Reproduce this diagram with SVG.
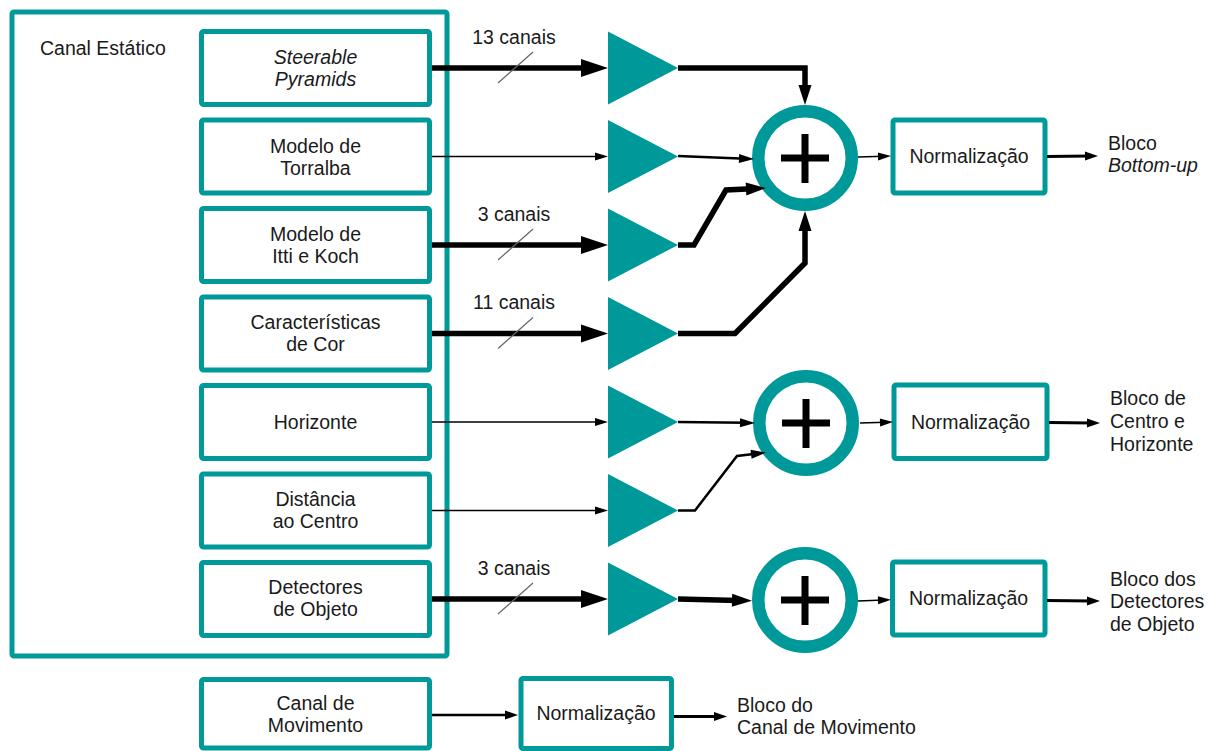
<svg xmlns="http://www.w3.org/2000/svg" width="1208" height="751" viewBox="0 0 1208 751">
<defs>
<style>
.box{fill:#fff;stroke:#009999;stroke-width:5}
.frame{fill:none;stroke:#009999;stroke-width:5}
.tri{fill:#009999}
.ring{fill:#fff;stroke:#009999;stroke-width:12.5}
.plus{stroke:#000;stroke-width:7;fill:none}
text{font-family:"Liberation Sans",Arial,sans-serif;font-size:19.5px;fill:#1a1a1a}
.c{text-anchor:middle}
.it{font-style:italic}
.thick{stroke:#000;stroke-width:5.5;fill:none}
.mid{stroke:#000;stroke-width:2.5;fill:none}
.thin{stroke:#000;stroke-width:1.4;fill:none}
.out{stroke:#000;stroke-width:3;fill:none}
.slash{stroke:#666;stroke-width:1.2}
</style>
<marker id="ahThick" markerUnits="userSpaceOnUse" markerWidth="28" markerHeight="20" refX="12" refY="9" orient="auto" overflow="visible"><path d="M0,0 L27,9 L0,18 z" fill="#000"/></marker>
<marker id="ahSum" markerUnits="userSpaceOnUse" markerWidth="21" markerHeight="14" refX="6" refY="6.5" orient="auto" overflow="visible"><path d="M0,0 L20,6.5 L0,13 z" fill="#000"/></marker>
<marker id="ahMed" markerUnits="userSpaceOnUse" markerWidth="16" markerHeight="10" refX="7" refY="4.5" orient="auto" overflow="visible"><path d="M0,0 L15,4.5 L0,9 z" fill="#000"/></marker>
<marker id="ahThin" markerUnits="userSpaceOnUse" markerWidth="14" markerHeight="8" refX="6" refY="4" orient="auto" overflow="visible"><path d="M0,0 L13,4 L0,8 z" fill="#000"/></marker>
<marker id="ahOut" markerUnits="userSpaceOnUse" markerWidth="14" markerHeight="10" refX="5" refY="4.5" orient="auto" overflow="visible"><path d="M0,0 L13,4.5 L0,9 z" fill="#000"/></marker>
</defs>
<rect width="1208" height="751" fill="#fff"/>

<g id="canal-estatico">
<rect class="frame" x="12" y="12" width="435" height="644" rx="2"/>
<text x="40" y="55">Canal Estático</text>
</g>

<g id="steerable">
<rect class="box" x="201.5" y="31.5" width="228" height="73" rx="2"/>
<text class="c it" x="315.5" y="64">Steerable</text>
<text class="c it" x="315.5" y="86">Pyramids</text>
</g>
<g id="torralba">
<rect class="box" x="201.5" y="120" width="228" height="73" rx="2"/>
<text class="c" x="315.5" y="152.5">Modelo de</text>
<text class="c" x="315.5" y="174.5">Torralba</text>
</g>
<g id="itti-koch">
<rect class="box" x="201.5" y="208.5" width="228" height="73" rx="2"/>
<text class="c" x="315.5" y="241">Modelo de</text>
<text class="c" x="315.5" y="263">Itti e Koch</text>
</g>
<g id="cor">
<rect class="box" x="201.5" y="297" width="228" height="73" rx="2"/>
<text class="c" x="315.5" y="329">Características</text>
<text class="c" x="315.5" y="351">de Cor</text>
</g>
<g id="horizonte">
<rect class="box" x="201.5" y="385.5" width="228" height="73" rx="2"/>
<text class="c" x="315.5" y="428.5">Horizonte</text>
</g>
<g id="distancia">
<rect class="box" x="201.5" y="474" width="228" height="73" rx="2"/>
<text class="c" x="315.5" y="506">Distância</text>
<text class="c" x="315.5" y="528">ao Centro</text>
</g>
<g id="detectores">
<rect class="box" x="201.5" y="562.5" width="228" height="73" rx="2"/>
<text class="c" x="315.5" y="594">Detectores</text>
<text class="c" x="315.5" y="616">de Objeto</text>
</g>
<g id="movimento">
<rect class="box" x="201.5" y="679.5" width="228" height="68.5" rx="2"/>
<text class="c" x="315.5" y="710">Canal de</text>
<text class="c" x="315.5" y="732">Movimento</text>
</g>

<g id="gains">
<polygon class="tri" points="608,31.5 678,68 608,104.5"/>
<polygon class="tri" points="608,120 678,156.5 608,193"/>
<polygon class="tri" points="608,208.5 678,245 608,281.5"/>
<polygon class="tri" points="608,297 678,333.5 608,370"/>
<polygon class="tri" points="608,385.5 678,422 608,458.5"/>
<polygon class="tri" points="608,474 678,510.5 608,547"/>
<polygon class="tri" points="608,562.5 678,599 608,635.5"/>
</g>

<g id="sum1">
<circle class="ring" cx="805" cy="158" r="46.75"/>
<path class="plus" d="M781,158 H829 M805,134 V183"/>
</g>
<g id="sum2">
<circle class="ring" cx="806" cy="423" r="46.75"/>
<path class="plus" d="M782,423 H830 M806,399 V448"/>
</g>
<g id="sum3">
<circle class="ring" cx="805" cy="600" r="46.75"/>
<path class="plus" d="M781,600 H829 M805,576 V625"/>
</g>

<g id="norm1">
<rect class="box" x="893" y="120" width="152" height="73" rx="2"/>
<text class="c" x="969" y="163">Normalização</text>
</g>
<g id="norm2">
<rect class="box" x="894" y="385" width="153" height="73.5" rx="2"/>
<text class="c" x="970.5" y="429">Normalização</text>
</g>
<g id="norm3">
<rect class="box" x="892.5" y="562" width="152.5" height="73" rx="2"/>
<text class="c" x="968.5" y="605">Normalização</text>
</g>
<g id="norm4">
<rect class="box" x="521" y="678.5" width="150.5" height="70" rx="2"/>
<text class="c" x="596" y="720">Normalização</text>
</g>

<g id="outputs">
<text x="1108" y="150">Bloco</text>
<text class="it" x="1108" y="172">Bottom-up</text>
<text x="1110" y="405">Bloco de</text>
<text x="1110" y="428">Centro e</text>
<text x="1110" y="451">Horizonte</text>
<text x="1110" y="586">Bloco dos</text>
<text x="1110" y="608">Detectores</text>
<text x="1110" y="631">de Objeto</text>
<text x="737" y="712">Bloco do</text>
<text x="737" y="734">Canal de Movimento</text>
</g>

<g id="connectors">
<path class="thick" d="M432,68 H593" marker-end="url(#ahThick)"/>
<path class="thin" d="M432,156.5 H601" marker-end="url(#ahThin)"/>
<path class="thick" d="M432,245 H593" marker-end="url(#ahThick)"/>
<path class="thick" d="M432,333.5 H593" marker-end="url(#ahThick)"/>
<path class="thin" d="M432,422 H601" marker-end="url(#ahThin)"/>
<path class="thin" d="M432,510.5 H601" marker-end="url(#ahThin)"/>
<path class="thick" d="M432,599 H593" marker-end="url(#ahThick)"/>
<line class="slash" x1="498" y1="83" x2="533" y2="52"/>
<line class="slash" x1="498" y1="260" x2="533" y2="229"/>
<line class="slash" x1="498" y1="348.5" x2="533" y2="317.5"/>
<line class="slash" x1="498" y1="614" x2="533" y2="583"/>
<text class="c" x="514" y="44">13 canais</text>
<text class="c" x="514" y="221">3 canais</text>
<text class="c" x="514" y="309">11 canais</text>
<text class="c" x="514" y="575">3 canais</text>

<path class="thick" d="M678,68 H805 V91" marker-end="url(#ahSum)"/>
<path class="mid" d="M678,156 L746,158.7" marker-end="url(#ahMed)"/>
<path class="thick" d="M678,245 H694 L726,190 L752,188.7" marker-end="url(#ahSum)"/>
<path class="thick" d="M678,333.5 H735 L805,263 V225" marker-end="url(#ahSum)"/>
<path class="mid" d="M678,422 L747,422.8" marker-end="url(#ahMed)"/>
<path class="mid" d="M678,510.5 H695 L737,456 L758,453.5" marker-end="url(#ahMed)"/>
<path class="thick" d="M678,599 L738,600.5" marker-end="url(#ahSum)"/>

<path class="thin" d="M858,157 L884,156.3" marker-end="url(#ahThin)"/>
<path class="thin" d="M860,423 L886,422.3" marker-end="url(#ahThin)"/>
<path class="thin" d="M858,601 L884,600" marker-end="url(#ahThin)"/>

<path class="out" d="M1047,156.5 L1090,156" marker-end="url(#ahOut)"/>
<path class="out" d="M1049,422.5 L1092,423" marker-end="url(#ahOut)"/>
<path class="out" d="M1047,600.5 L1092,601" marker-end="url(#ahOut)"/>
<path class="mid" d="M432,715 H510" marker-end="url(#ahOut)"/>
<path class="out" d="M674,716.5 H719" marker-end="url(#ahOut)"/>
</g>
</svg>
